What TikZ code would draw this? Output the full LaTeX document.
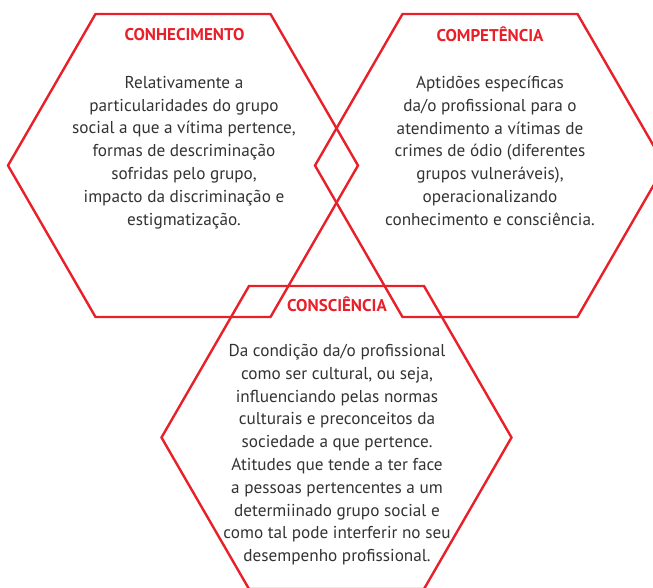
\documentclass[tikz,border=0pt]{standalone}
\usepackage{fontspec}
\setmainfont{PT Sans}
\usetikzlibrary{calc}
\definecolor{hexred}{HTML}{E8202A}
\definecolor{txtgray}{HTML}{333333}
\tikzset{
  hexline/.style={draw=hexred, line width=2.4pt, line join=miter},
  hextitle/.style={text=hexred, font=\bfseries\fontsize{17}{19}\selectfont, inner sep=1pt},
  hexbody/.style={text=txtgray, font=\fontsize{17.2}{22.8}\selectfont, align=center, inner sep=0pt, anchor=north},
}
\begin{document}
\begin{tikzpicture}[x=1pt,y=-1pt]
\clip (0,0) rectangle (653,588);
\fill[white] (0,0) rectangle (653,588);
% hexagon centres
\coordinate (c1) at (183,165.5);
\coordinate (c2) at (490,165.5);
\coordinate (c3) at (336.5,437.5);
\foreach \c in {c1,c2,c3}{
  \draw[hexline] ($(\c)+(-175,0)$) -- ($(\c)+(-87.5,-151.5)$) -- ($(\c)+(87.5,-151.5)$)
    -- ($(\c)+(175,0)$) -- ($(\c)+(87.5,151.5)$) -- ($(\c)+(-87.5,151.5)$) -- cycle;
}
\node[hextitle] (t1) at (184.5,34.5) {CONHECIMENTO};
\node[hexbody] (b1) at (184,76) {Relativamente a\\particularidades do grupo\\social a que a vítima pertence,\\formas de descriminação\\sofridas pelo grupo,\\impacto da discriminação e\\estigmatização.};
\node[hextitle] (t2) at (490,34.5) {COMPETÊNCIA};
\node[hexbody] (b2) at (490,76) {Aptidões específicas\\da/o profissional para o\\atendimento a vítimas de\\crimes de ódio (diferentes\\grupos vulneráveis),\\operacionalizando\\conhecimento e consciência.};
\node[hextitle] (t3) at (337,304.5) {CONSCIÊNCIA};
\node[hexbody] (b3) at (337,344) {Da condição da/o profissional\\como ser cultural, ou seja,\\influenciando pelas normas\\culturais e preconceitos da\\sociedade a que pertence.\\Atitudes que tende a ter face\\a pessoas pertencentes a um\\determiinado grupo social e\\como tal pode interferir no seu\\desempenho profissional.};
\end{tikzpicture}
\end{document}
